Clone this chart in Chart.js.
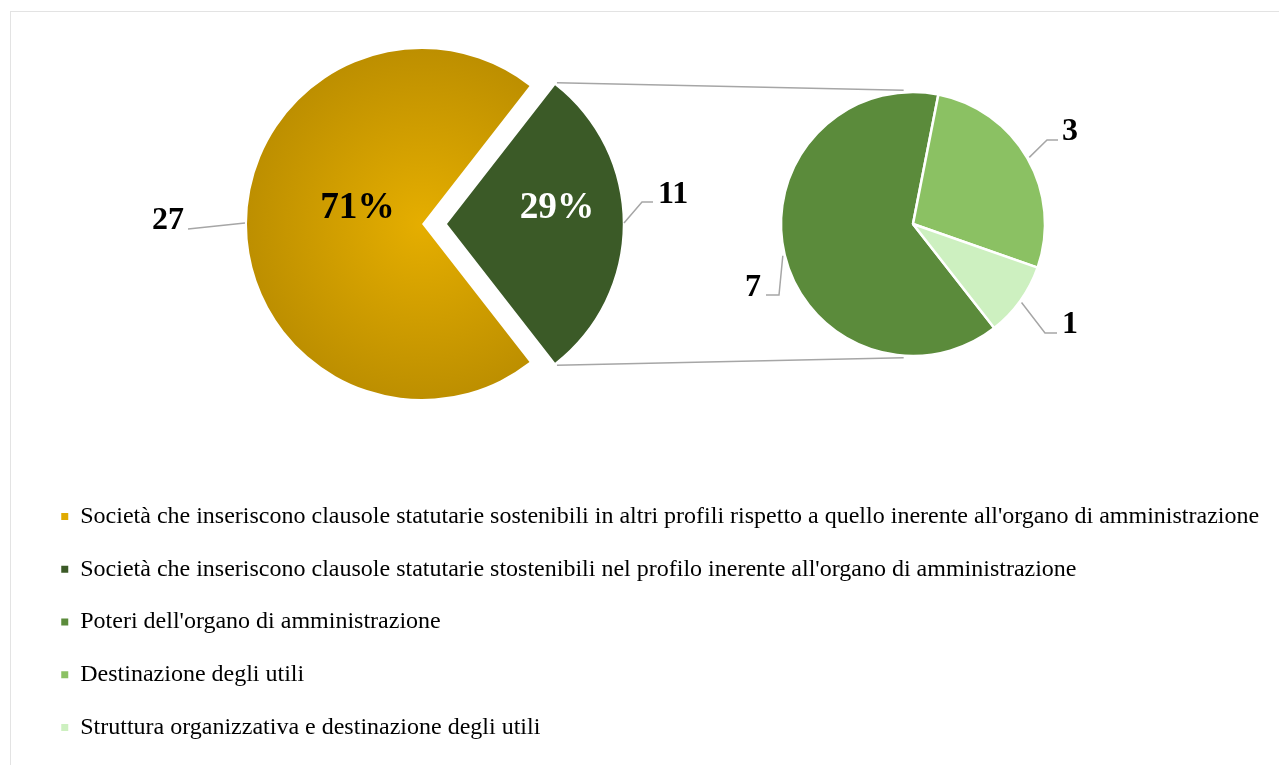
<!DOCTYPE html>
<html lang="it">
<head>
<meta charset="utf-8">
<title>Clausole statutarie sostenibili</title>
<script src="https://cdn.jsdelivr.net/npm/chart.js@4.4.1/dist/chart.umd.min.js"></script>
<style>
  html, body { margin: 0; padding: 0; background: #ffffff; width: 1279px; height: 765px; overflow: hidden; position: relative; }
  .layer { position: absolute; left: 0; top: 0; }
  #frame { position: absolute; left: 10px; top: 11px; width: 1400px; height: 900px; border: 1.5px solid #E3E3E3; box-sizing: border-box; }
</style>
</head>
<body>
<div id="frame"></div>
<canvas id="legendChart" class="layer" width="1400" height="840"></canvas>
<canvas id="mainPie" class="layer" width="1279" height="765"></canvas>
<canvas id="detailPie" class="layer" width="1279" height="765"></canvas>
<script>
// ---- data ----
const mainLabels = [
  "Società che inseriscono clausole statutarie sostenibili in altri profili rispetto a quello inerente all'organo di amministrazione",
  "Società che inseriscono clausole statutarie stostenibili nel profilo inerente all'organo di amministrazione"
];
const mainValues = [27, 11];

const detailLabels = [
  "Poteri dell'organo di amministrazione",
  "Destinazione degli utili",
  "Struttura organizzativa e destinazione degli utili"
];
const detailValues = [7, 3, 1];

// ---- styles ----
const mainColors = ['#E0AA00', '#3B5A27'];
const detailColors = ['#5B8B3B', '#8BC163', '#CDF0C0'];
const serif = "'Liberation Serif', 'Times New Roman', serif";
const leaderColor = '#A6A6A6';
const MAIN_RADIUS = 175;

function goldGradient(chart) {
  const a = chart.chartArea;
  if (!a) return mainColors[0];
  const cx = (a.left + a.right) / 2, cy = (a.top + a.bottom) / 2;
  const g = chart.ctx.createRadialGradient(cx, cy, 0, cx, cy, MAIN_RADIUS);
  g.addColorStop(0, '#E5AE00');
  g.addColorStop(1, '#BD8F00');
  return g;
}

// Percent labels inside slices and value labels with leader lines outside.
const pieLabels = {
  id: 'pieLabels',
  afterDatasetsDraw(chart, args, opts) {
    const meta = chart.getDatasetMeta(0);
    const values = chart.data.datasets[0].data;
    const total = values.reduce((s, v) => s + v, 0);
    const ctx = chart.ctx;
    ctx.save();
    meta.data.forEach((arc, i) => {
      const spec = opts.slices[i];
      if (!spec) return;
      const p = arc.getProps(['x', 'y', 'startAngle', 'endAngle', 'outerRadius'], true);
      const mid = (p.startAngle + p.endAngle) / 2;
      const shift = (arc.options.offset || 0) / 4;
      const cx = p.x + Math.cos(mid) * shift;
      const cy = p.y + Math.sin(mid) * shift;
      if (spec.pct) {
        ctx.font = 'bold 37.3px ' + serif;
        ctx.textAlign = 'center';
        ctx.textBaseline = 'alphabetic';
        ctx.fillStyle = spec.pct.color;
        ctx.fillText(Math.round(values[i] / total * 100) + '%', cx + spec.pct.at[0], cy + spec.pct.at[1]);
      }
      if (spec.value) {
        const v = spec.value;
        const a = v.angle * Math.PI / 180;
        const r = p.outerRadius + 2;
        ctx.beginPath();
        ctx.moveTo(cx + Math.cos(a) * r, cy + Math.sin(a) * r);
        v.path.forEach(([dx, dy]) => ctx.lineTo(cx + dx, cy + dy));
        ctx.strokeStyle = leaderColor;
        ctx.lineWidth = 1.5;
        ctx.stroke();
        ctx.font = 'bold 32px ' + serif;
        ctx.textAlign = v.align;
        ctx.textBaseline = 'alphabetic';
        ctx.fillStyle = '#000000';
        ctx.fillText(String(values[i]), cx + v.text[0], cy + v.text[1]);
      }
    });
    ctx.restore();
  }
};

// Lines joining the detached slice to the breakdown pie.
const connectorLines = {
  id: 'connectorLines',
  beforeDatasetsDraw(chart, args, opts) {
    const src = mainChart.getDatasetMeta(0).data[opts.sliceIndex];
    const s = src.getProps(['x', 'y', 'startAngle', 'endAngle', 'outerRadius'], true);
    const mid = (s.startAngle + s.endAngle) / 2;
    const shift = (src.options.offset || 0) / 4;
    const sx = s.x + Math.cos(mid) * shift, sy = s.y + Math.sin(mid) * shift;
    const sr = s.outerRadius + 4;
    const t = chart.getDatasetMeta(0).data[0].getProps(['x', 'y', 'outerRadius'], true);
    const tr = t.outerRadius + 2;
    const topA = -94 * Math.PI / 180, botA = 94 * Math.PI / 180;
    const ctx = chart.ctx;
    ctx.save();
    ctx.strokeStyle = leaderColor;
    ctx.lineWidth = 1.5;
    ctx.beginPath();
    ctx.moveTo(sx + Math.cos(s.startAngle) * sr, sy + Math.sin(s.startAngle) * sr);
    ctx.lineTo(t.x + Math.cos(topA) * tr, t.y + Math.sin(topA) * tr);
    ctx.moveTo(sx + Math.cos(s.endAngle) * sr, sy + Math.sin(s.endAngle) * sr);
    ctx.lineTo(t.x + Math.cos(botA) * tr, t.y + Math.sin(botA) * tr);
    ctx.stroke();
    ctx.restore();
  }
};

const mainTotal = mainValues.reduce((s, v) => s + v, 0);

const mainChart = new Chart(document.getElementById('mainPie'), {
  type: 'pie',
  data: {
    labels: mainLabels,
    datasets: [{
      data: mainValues,
      backgroundColor: (c) => c.dataIndex === 0 ? goldGradient(c.chart) : mainColors[1],
      borderWidth: 0,
      offset: [0, 100]
    }]
  },
  options: {
    responsive: false,
    animation: false,
    events: [],
    radius: MAIN_RADIUS,
    // detached slice centred on the right-hand side
    rotation: 90 + (mainValues[1] / mainTotal) * 180,
    layout: { padding: { left: 0, right: 435, top: 0, bottom: 317 } },
    plugins: {
      legend: { display: false },
      tooltip: { enabled: false },
      pieLabels: {
        slices: [
          { pct: { at: [-64.5, -6], color: '#000000' },
            value: { angle: 180.3, path: [[-234, 5]], text: [-238, 4.5], align: 'right' } },
          { pct: { at: [110, -6], color: '#FFFFFF' },
            value: { angle: -0.3, path: [[195, -22], [206, -22]], text: [211, -21], align: 'left' } }
        ]
      }
    }
  },
  plugins: [pieLabels]
});

const detailChart = new Chart(document.getElementById('detailPie'), {
  type: 'pie',
  data: {
    labels: detailLabels,
    datasets: [{
      data: detailValues,
      backgroundColor: detailColors,
      borderColor: '#FFFFFF',
      borderWidth: 2.5
    }]
  },
  options: {
    responsive: false,
    animation: false,
    events: [],
    radius: 132,
    rotation: 142,
    layout: { padding: { left: 547, right: 0, top: 0, bottom: 317 } },
    plugins: {
      legend: { display: false },
      tooltip: { enabled: false },
      connectorLines: { sliceIndex: 1 },
      pieLabels: {
        slices: [
          { value: { angle: 166.3, path: [[-134, 71], [-147, 71]], text: [-152, 72], align: 'right' } },
          { value: { angle: -29.8, path: [[134, -84], [145, -84]], text: [149, -84], align: 'left' } },
          { value: { angle: 35.9, path: [[132, 109], [144, 109]], text: [149, 109], align: 'left' } }
        ]
      }
    }
  },
  plugins: [connectorLines, pieLabels]
});

// Legend listing both pies' categories, one per row.
const legendLabels = mainLabels.concat(detailLabels);
const legendColors = mainColors.concat(detailColors);

const legendChart = new Chart(document.getElementById('legendChart'), {
  type: 'pie',
  data: { labels: legendLabels, datasets: [] },
  options: {
    responsive: false,
    animation: false,
    events: [],
    layout: { padding: { left: 32.5, right: 0, top: 475.75, bottom: 0 } },
    plugins: {
      tooltip: { enabled: false },
      legend: {
        display: true,
        position: 'left',
        align: 'start',
        maxWidth: 1360,
        labels: {
          boxWidth: 7,
          boxHeight: 7,
          padding: 28.75,
          color: '#000000',
          font: { family: serif, size: 24 },
          generateLabels: () => legendLabels.map((text, i) => ({
            text,
            fillStyle: legendColors[i],
            strokeStyle: legendColors[i],
            lineWidth: 0,
            hidden: false,
            index: i
          }))
        }
      }
    }
  }
});
</script>
</body>
</html>
